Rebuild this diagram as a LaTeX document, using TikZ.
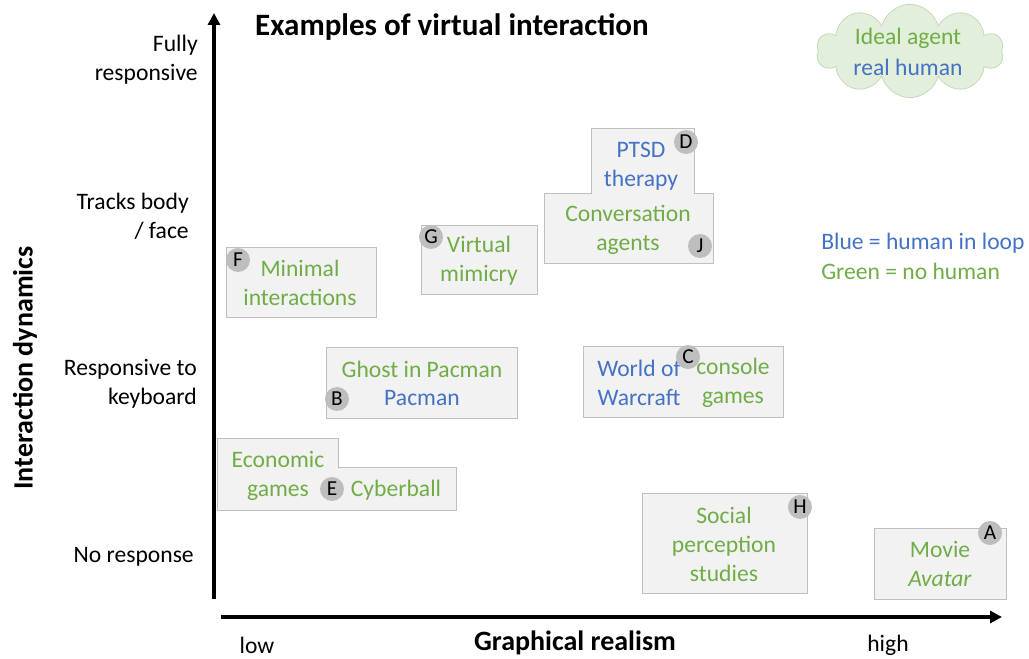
\documentclass[tikz,border=0pt]{standalone}
\usepackage{fontspec}
\setmainfont{Carlito}
\usetikzlibrary{shapes.symbols,arrows.meta}
\definecolor{cgreen}{RGB}{112,173,71}
\definecolor{cblue}{RGB}{68,114,196}
\definecolor{boxfill}{RGB}{242,242,242}
\definecolor{boxline}{RGB}{191,191,191}
\definecolor{cloudfill}{RGB}{226,239,218}
\definecolor{cloudline}{RGB}{200,215,190}
\definecolor{markfill}{RGB}{190,190,190}
\tikzset{
  body/.style={font=\fontsize{17.7}{21.75}\selectfont, align=center, inner sep=0pt},
  gtext/.style={body, text=cgreen},
  btext/.style={body, text=cblue},
  ktext/.style={body, text=black},
  boxshape/.style={fill=boxfill, draw=boxline, line width=0.75pt},
  marker/.style={circle, fill=markfill, inner sep=0pt, minimum size=18pt, font=\fontsize{16}{17}\selectfont},
  axis/.style={line width=2.4pt, -{Triangle[length=9pt,width=9pt]}},
  bigbold/.style={font=\fontsize{21}{24}\selectfont\bfseries, inner sep=0pt}
}
\begin{document}
\begin{tikzpicture}[x=0.75pt,y=-0.75pt]
\useasboundingbox (0,0) rectangle (1029,659);
% title
\node[bigbold, font=\fontsize{23.3}{26}\selectfont\bfseries] (title) at (452,27) {Examples of virtual interaction};
% axes
\coordinate (yfoot) at (214,599);
\coordinate (ytip) at (214,13);
\coordinate (xfoot) at (221,617);
\coordinate (xtip) at (1002,617);
\draw[axis] (yfoot) -- (ytip);
\draw[axis] (xfoot) -- (xtip);
\node[bigbold, rotate=90] (ylab) at (25,368) {Interaction dynamics};
\node[bigbold] (xlab) at (575,643) {Graphical realism};
\node[ktext] (low) at (257,645) {low};
\node[ktext] (high) at (888,645) {high};
% y-level labels
\node[ktext, align=right, anchor=east] (l1) at (198,60) {Fully\\responsive};
\node[ktext, align=right, anchor=east] (l2) at (189,216) {Tracks body\\/ face};
\node[ktext, align=right, anchor=east] (l3) at (197,384) {Responsive to\\keyboard};
\node[ktext, align=right, anchor=east] (l4) at (194,557) {No response};
% cloud
\node[cloud, cloud puffs=10, aspect=2.0, fill=cloudfill, draw=cloudline, line width=0.6pt,
      minimum width=140pt, minimum height=70pt, inner sep=0pt] (cloud) at (910,51) {};
\node[gtext] (ideal) at (908,38) {Ideal agent};
\node[btext] (real) at (908,67) {real human};
% legend
\node[btext, anchor=west] (leg1) at (821,243) {Blue = human in loop};
\node[gtext, anchor=west] (leg2) at (821,271) {Green = no human};
% boxes
\draw[boxshape] (591,129) -- (694,129) -- (694,194) -- (713,194) -- (713,264) -- (544,264) -- (544,194) -- (591,194) -- cycle;
\draw[boxshape] (421,226) rectangle (537,295);
\draw[boxshape] (226,248) rectangle (376,318);
\draw[boxshape] (326,348) rectangle (517,419);
\draw[boxshape] (583,347) rectangle (783,418);
\draw[boxshape] (217,439) -- (338,439) -- (338,467) -- (456,467) -- (456,510) -- (217,510) -- cycle;
\draw[boxshape] (642,493) rectangle (807,593);
\draw[boxshape] (874,528) rectangle (1006,599);
% texts
\node[btext] (ptsd) at (641,166) {PTSD\\therapy};
\node[gtext] (conv) at (628,230) {Conversation\\agents};
\node[gtext] (virt) at (479,261) {Virtual\\mimicry};
\node[gtext] (mini) at (300,283) {Minimal\\interactions};
\node[gtext] (ghost) at (422,369) {Ghost in Pacman};
\node[btext] (pac) at (422,398) {Pacman};
\node[btext] (wow) at (639,383) {World of\\Warcraft};
\node[gtext] (cons) at (733,383) {console\\games};
\node[gtext] (econ) at (278,476) {Economic\\games};
\node[gtext] (cyber) at (396,490) {Cyberball};
\node[gtext] (social) at (724,544) {Social\\perception\\studies};
\node[gtext] (movie) at (940,564) {Movie\\\textit{Avatar}};
% markers
\node[marker] (mA) at (990,533) {A};
\node[marker] (mB) at (337,399) {B};
\node[marker] (mC) at (688,357) {C};
\node[marker] (mD) at (686,142) {D};
\node[marker] (mE) at (332,489) {E};
\node[marker] (mF) at (238,260) {F};
\node[marker] (mG) at (431,237) {G};
\node[marker] (mH) at (800,507) {H};
\node[marker] (mJ) at (700,246) {J};
\end{tikzpicture}
\end{document}
